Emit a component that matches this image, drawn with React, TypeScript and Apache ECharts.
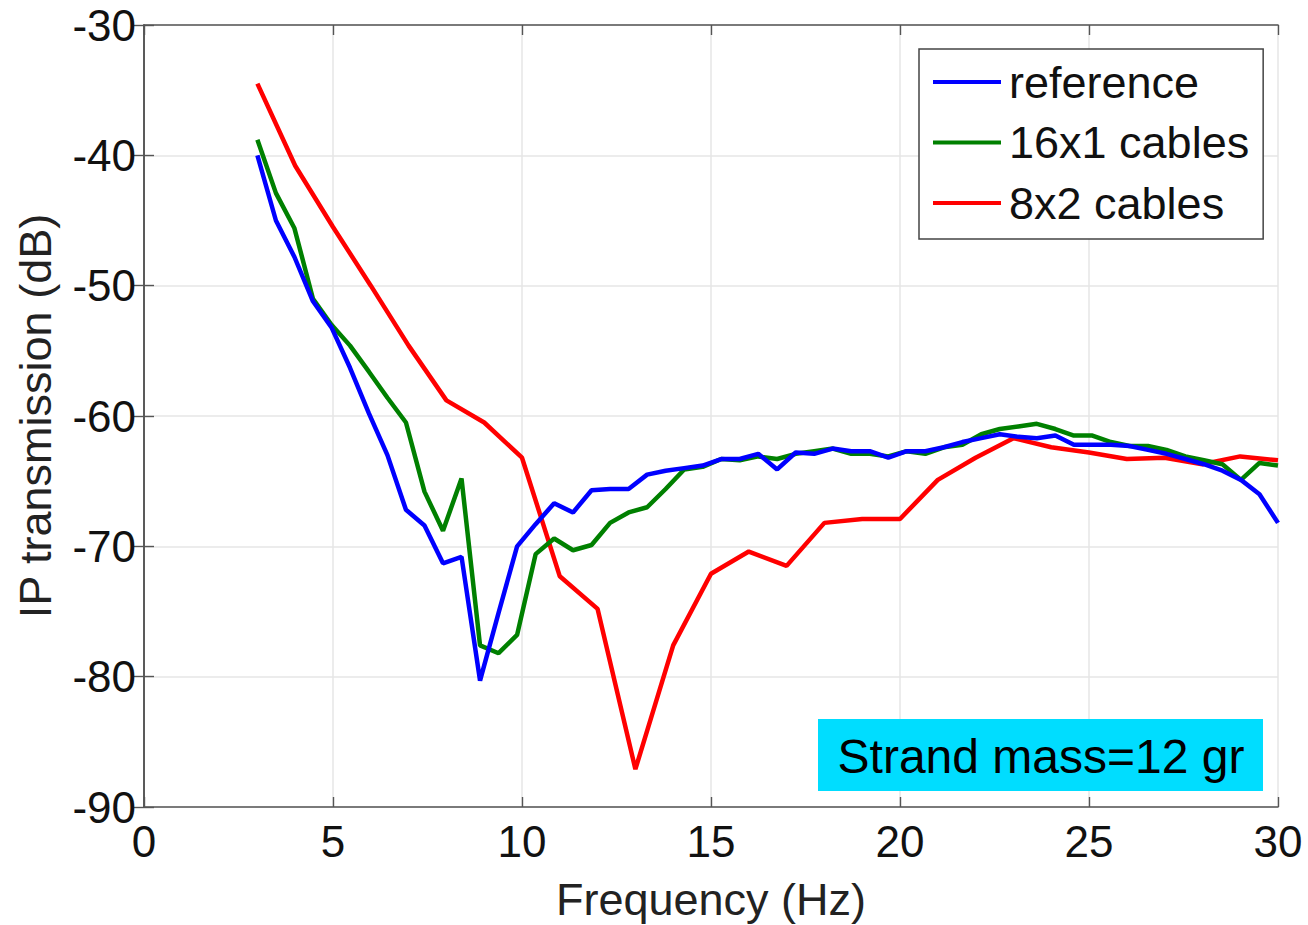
import React, { useEffect, useRef } from "react";
import * as echarts from "echarts";

const freqs = [
  3.0, 3.49, 3.98, 4.47, 4.96, 5.45, 5.95, 6.44, 6.93, 7.42, 7.91, 8.4, 8.89, 9.38,
  9.87, 10.36, 10.85, 11.35, 11.84, 12.33, 12.82, 13.31, 13.8, 14.29, 14.78, 15.27,
  15.76, 16.25, 16.75, 17.24, 17.73, 18.22, 18.71, 19.2, 19.69, 20.18, 20.67, 21.16,
  21.65, 22.15, 22.64, 23.13, 23.62, 24.11, 24.6, 25.09, 25.58, 26.07, 26.56, 27.05,
  27.55, 28.04, 28.53, 29.02, 29.51, 30.0,
];

const referenceDb = [
  -40.0, -45.0, -47.8, -51.2, -53.2, -56.3, -59.8, -63.0, -67.2, -68.4, -71.3, -70.8,
  -80.3, -75.1, -70.0, -68.3, -66.7, -67.4, -65.7, -65.6, -65.6, -64.5, -64.2, -64.0,
  -63.8, -63.3, -63.3, -62.9, -64.1, -62.8, -62.9, -62.5, -62.7, -62.7, -63.2, -62.7,
  -62.7, -62.4, -62.0, -61.7, -61.4, -61.6, -61.7, -61.5, -62.2, -62.2, -62.2, -62.3,
  -62.6, -62.9, -63.3, -63.7, -64.2, -64.9, -66.0, -68.2,
];

const cables16x1Db = [
  -38.8, -42.9, -45.6, -51.0, -53.0, -54.6, -56.6, -58.6, -60.5, -65.8, -68.8, -64.8,
  -77.6, -78.2, -76.8, -70.6, -69.4, -70.3, -69.9, -68.2, -67.4, -67.0, -65.6, -64.1,
  -63.9, -63.3, -63.4, -63.1, -63.3, -62.9, -62.7, -62.5, -62.9, -62.9, -63.1, -62.7,
  -62.9, -62.4, -62.2, -61.4, -61.0, -60.8, -60.6, -61.0, -61.5, -61.5, -62.0, -62.3,
  -62.3, -62.6, -63.1, -63.4, -63.7, -64.9, -63.6, -63.8,
];

const freqsInt = [
  3, 4, 5, 6, 7, 8, 9, 10, 11, 12, 13, 14, 15, 16, 17, 18, 19, 20, 21, 22, 23, 24, 25,
  26, 27, 28, 29, 30,
];

const cables8x2Db = [
  -34.5, -40.8, -45.5, -50.0, -54.6, -58.8, -60.5, -63.2, -72.3, -74.8, -87.1, -77.6,
  -72.1, -70.4, -71.5, -68.2, -67.9, -67.9, -64.9, -63.2, -61.7, -62.4, -62.8, -63.3,
  -63.2, -63.7, -63.1, -63.4,
];

const seriesNames = ["reference", "16x1 cables", "8x2 cables"];
const seriesColors = ["#0000FF", "#008000", "#FF0000"];
const annotation = "Strand mass=12 gr";

const FONT = "'Liberation Sans', Arial, Helvetica, sans-serif";

export default function App() {
  const ref = useRef<HTMLDivElement>(null);

  useEffect(() => {
    if (!ref.current) return;
    const chart = echarts.init(ref.current, null, { renderer: "svg" });
    const zip = (xs: number[], ys: number[]) => xs.map((x, i) => [x, ys[i]]);
    const datasets = [
      zip(freqs, referenceDb),
      zip(freqs, cables16x1Db),
      zip(freqsInt, cables8x2Db),
    ];
    const axisLine = { show: true, lineStyle: { color: "#555", width: 1.6 } };
    const tick = { show: true, inside: true, length: 10, lineStyle: { color: "#555", width: 1.4 } };

    chart.setOption({
      animation: false,
      backgroundColor: "#fff",
      textStyle: { fontFamily: FONT },
      grid: { left: 144, right: 30, top: 25, bottom: 118, outerBoundsMode: "none" },
      legend: {
        data: seriesNames,
        orient: "vertical",
        left: 919,
        top: 49,
        icon: "rect",
        itemWidth: 68,
        itemHeight: 4,
        itemGap: 12.5,
        padding: [9, 14, 12, 14],
        backgroundColor: "#fff",
        borderColor: "#444",
        borderWidth: 1.5,
        borderRadius: 0,
        textStyle: { fontSize: 45, color: "#111", fontFamily: FONT, lineHeight: 48, padding: [0, 0, 0, 3] },
      },
      xAxis: [
        {
          type: "value",
          min: 0,
          max: 30,
          interval: 5,
          name: "Frequency (Hz)",
          nameLocation: "middle",
          nameGap: 70,
          nameTextStyle: { fontSize: 45, color: "#222", fontFamily: FONT, verticalAlign: "top" },
          axisLine,
          axisTick: tick,
          axisLabel: { fontSize: 44, color: "#111", margin: 12, fontFamily: FONT },
          splitLine: { show: true, lineStyle: { color: "#e6e6e6", width: 1.5 } },
        },
        {
          type: "value",
          position: "top",
          min: 0,
          max: 30,
          interval: 5,
          axisLine,
          axisTick: tick,
          axisLabel: { show: false },
          splitLine: { show: false },
        },
      ],
      yAxis: [
        {
          type: "value",
          min: -90,
          max: -30,
          interval: 10,
          name: "IP transmission (dB)",
          nameLocation: "middle",
          nameGap: 86,
          nameRotate: 90,
          nameTextStyle: { fontSize: 45, color: "#222", fontFamily: FONT },
          axisLine,
          axisTick: tick,
          axisLabel: { fontSize: 44, color: "#111", margin: 8, fontFamily: FONT },
          splitLine: { show: true, lineStyle: { color: "#e6e6e6", width: 1.5 } },
        },
        {
          type: "value",
          position: "right",
          min: -90,
          max: -30,
          interval: 10,
          axisLine,
          axisTick: tick,
          axisLabel: { show: false },
          splitLine: { show: false },
        },
      ],
      series: seriesNames.map((name, i) => ({
        name,
        type: "line",
        data: datasets[i],
        symbol: "none",
        lineStyle: { color: seriesColors[i], width: 4.5 },
        itemStyle: { color: seriesColors[i] },
        z: 3 + (2 - i),
      })),
      graphic: [
        {
          type: "rect",
          shape: { x: 818, y: 719, width: 445, height: 72 },
          style: { fill: "#00DDFF" },
          z: 100,
        },
        {
          type: "text",
          x: 1041,
          y: 756,
          style: {
            text: annotation,
            fontSize: 48,
            fontFamily: FONT,
            fill: "#000",
            align: "center",
            verticalAlign: "middle",
          },
          z: 101,
        },
      ],
    });
    return () => chart.dispose();
  }, []);

  return (
    <div
      ref={ref}
      style={{ position: "absolute", left: 0, top: 0, width: 1308, height: 925 }}
    />
  );
}
